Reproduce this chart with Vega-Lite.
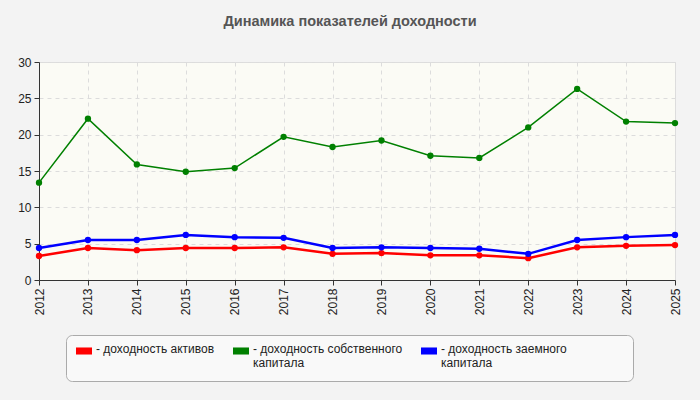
{
  "$schema": "https://vega.github.io/schema/vega-lite/v6.json",
  "width": 636,
  "height": 218,
  "autosize": {"type": "none"},
  "padding": {"left": 39, "top": 62, "right": 25, "bottom": 120},
  "background": "#f3f3f3",
  "title": {
    "text": "Динамика показателей доходности",
    "font": "Liberation Sans",
    "fontSize": 14.5,
    "fontWeight": "bold",
    "color": "#555555",
    "anchor": "middle",
    "dx": -7,
    "offset": 27
  },
  "config": {
    "view": {"fill": "#fbfbf5", "stroke": "#dddddd"},
    "axis": {
      "labelFont": "Liberation Sans",
      "labelFontSize": 12,
      "labelColor": "#222222",
      "domainColor": "#333333",
      "tickColor": "#333333",
      "tickSize": 5,
      "gridColor": "#dcdcdc",
      "gridDash": [4, 4],
      "title": null
    }
  },
  "data": {
    "values": [
      {"year": "2012", "series": "- доходность активов", "value": 3.3},
      {"year": "2013", "series": "- доходность активов", "value": 4.4},
      {"year": "2014", "series": "- доходность активов", "value": 4.1},
      {"year": "2015", "series": "- доходность активов", "value": 4.4},
      {"year": "2016", "series": "- доходность активов", "value": 4.4},
      {"year": "2017", "series": "- доходность активов", "value": 4.5},
      {"year": "2018", "series": "- доходность активов", "value": 3.6},
      {"year": "2019", "series": "- доходность активов", "value": 3.7},
      {"year": "2020", "series": "- доходность активов", "value": 3.4},
      {"year": "2021", "series": "- доходность активов", "value": 3.4},
      {"year": "2022", "series": "- доходность активов", "value": 3.0},
      {"year": "2023", "series": "- доходность активов", "value": 4.5},
      {"year": "2024", "series": "- доходность активов", "value": 4.7},
      {"year": "2025", "series": "- доходность активов", "value": 4.8},
      {"year": "2012", "series": "- доходность собственного|капитала", "value": 13.4},
      {"year": "2013", "series": "- доходность собственного|капитала", "value": 22.2},
      {"year": "2014", "series": "- доходность собственного|капитала", "value": 15.9},
      {"year": "2015", "series": "- доходность собственного|капитала", "value": 14.9},
      {"year": "2016", "series": "- доходность собственного|капитала", "value": 15.4},
      {"year": "2017", "series": "- доходность собственного|капитала", "value": 19.7},
      {"year": "2018", "series": "- доходность собственного|капитала", "value": 18.3},
      {"year": "2019", "series": "- доходность собственного|капитала", "value": 19.2},
      {"year": "2020", "series": "- доходность собственного|капитала", "value": 17.1},
      {"year": "2021", "series": "- доходность собственного|капитала", "value": 16.8},
      {"year": "2022", "series": "- доходность собственного|капитала", "value": 21.0},
      {"year": "2023", "series": "- доходность собственного|капитала", "value": 26.3},
      {"year": "2024", "series": "- доходность собственного|капитала", "value": 21.8},
      {"year": "2025", "series": "- доходность собственного|капитала", "value": 21.6},
      {"year": "2012", "series": "- доходность заемного|капитала", "value": 4.4},
      {"year": "2013", "series": "- доходность заемного|капитала", "value": 5.5},
      {"year": "2014", "series": "- доходность заемного|капитала", "value": 5.5},
      {"year": "2015", "series": "- доходность заемного|капитала", "value": 6.2},
      {"year": "2016", "series": "- доходность заемного|капитала", "value": 5.9},
      {"year": "2017", "series": "- доходность заемного|капитала", "value": 5.8},
      {"year": "2018", "series": "- доходность заемного|капитала", "value": 4.4},
      {"year": "2019", "series": "- доходность заемного|капитала", "value": 4.5},
      {"year": "2020", "series": "- доходность заемного|капитала", "value": 4.4},
      {"year": "2021", "series": "- доходность заемного|капитала", "value": 4.3},
      {"year": "2022", "series": "- доходность заемного|капитала", "value": 3.6},
      {"year": "2023", "series": "- доходность заемного|капитала", "value": 5.5},
      {"year": "2024", "series": "- доходность заемного|капитала", "value": 5.9},
      {"year": "2025", "series": "- доходность заемного|капитала", "value": 6.2}
    ]
  },
  "encoding": {
    "x": {
      "field": "year",
      "type": "ordinal",
      "scale": {"type": "point", "padding": 0},
      "axis": {"labelAngle": -90, "labelAlign": "right", "labelBaseline": "middle", "grid": true, "labelPadding": 3}
    },
    "y": {
      "field": "value",
      "type": "quantitative",
      "scale": {"domain": [0, 30], "nice": false},
      "axis": {"values": [0, 5, 10, 15, 20, 25, 30], "grid": true, "labelPadding": 3}
    },
    "color": {
      "field": "series",
      "type": "nominal",
      "scale": {
        "domain": ["- доходность активов", "- доходность собственного|капитала", "- доходность заемного|капитала"],
        "range": ["#ff0000", "#008000", "#0000ff"]
      },
      "legend": {
        "title": null,
        "orient": "none",
        "legendX": 27,
        "legendY": 273,
        "direction": "horizontal",
        "columns": 3,
        "columnPadding": 18,
        "fillColor": "#f9f9f9",
        "strokeColor": "#aaaaaa",
        "cornerRadius": 6,
        "padding": 12,
        "symbolType": "M-1,-0.44H1V0.44H-1Z",
        "symbolSize": 256,
        "symbolOffset": -2,
        "symbolStrokeWidth": 0,
        "symbolOpacity": 1,
        "labelFont": "Liberation Sans",
        "labelFontSize": 12,
        "labelColor": "#222222",
        "labelOffset": 4,
        "labelBaseline": "top",
        "labelLimit": 400,
        "labelExpr": "datum.index == 2 ? ['- доходность заемного' + '\u00a0\u00a0\u00a0\u00a0\u00a0\u00a0\u00a0\u00a0\u00a0\u00a0\u00a0\u00a0\u00a0\u00a0\u00a0\u00a0\u200b', 'капитала'] : datum.index == 0 ? ['- доходность активов', ' '] : split(datum.label, '|')",
        "encode": {
          "symbols": {"update": {"y": {"value": 4}}},
          "labels": {"update": {"y": {"value": -3}}}
        }
      }
    }
  },
  "layer": [
    {
      "mark": {"type": "line"},
      "encoding": {
        "strokeWidth": {
          "condition": {"test": "datum.series == '- доходность собственного|капитала'", "value": 1.5},
          "value": 2.5
        }
      }
    },
    {
      "mark": {"type": "point", "filled": true, "opacity": 1, "size": 40},
      "encoding": {}
    }
  ]
}
